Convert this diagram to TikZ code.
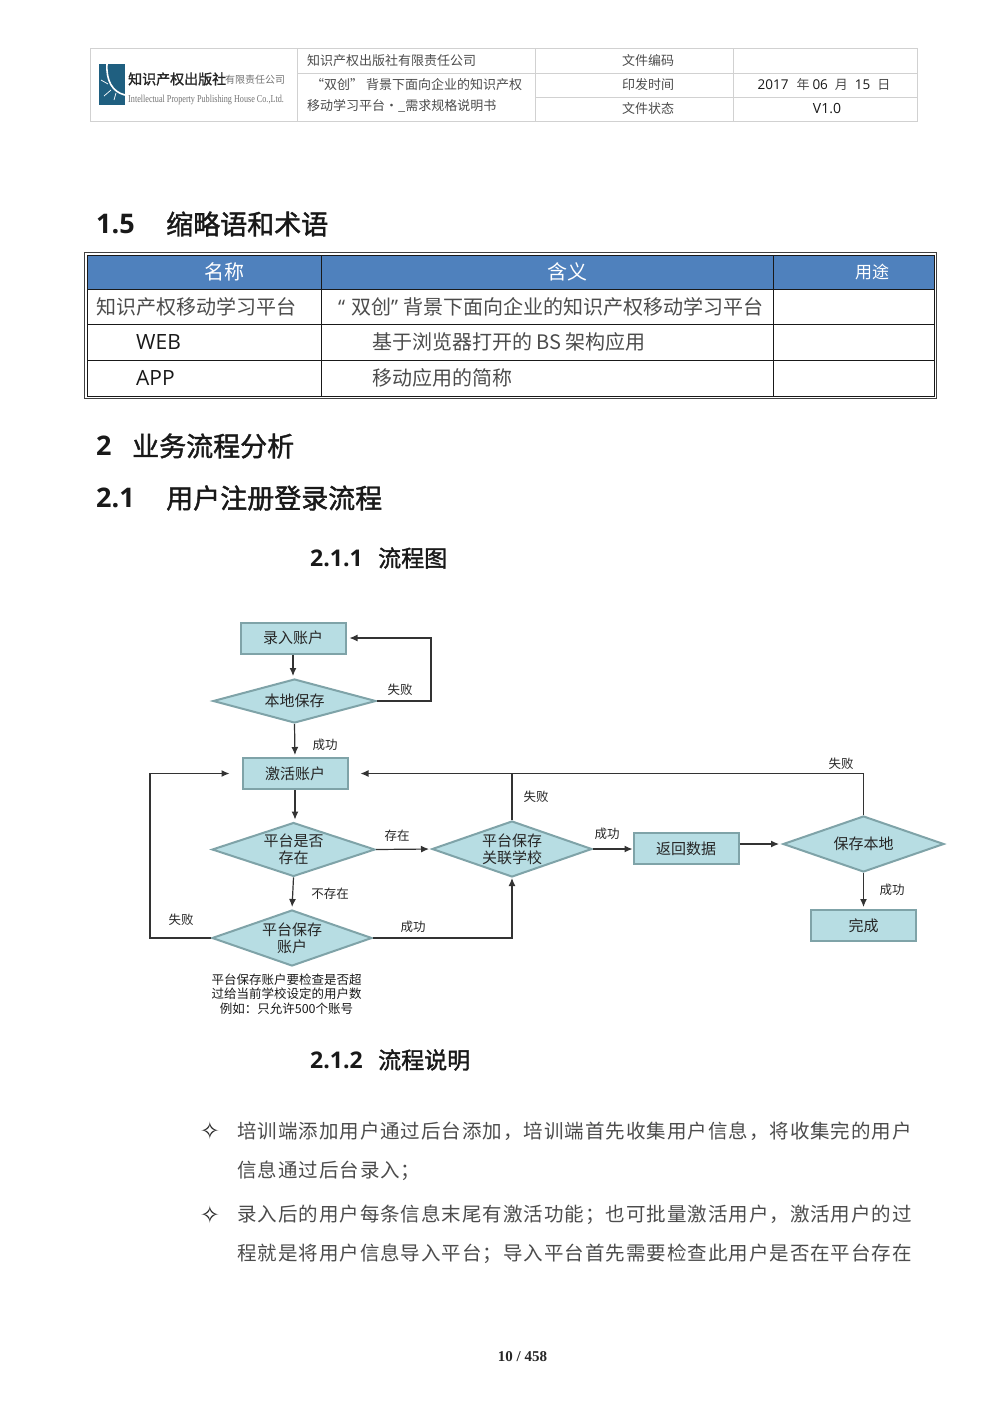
\documentclass[tikz,border=0pt]{standalone}
\usepackage{fontspec}
\setmainfont{Noto Sans CJK SC}
\newfontfamily\latfont{Open Sans}
\newfontfamily\symfont{DejaVu Sans}
\newfontfamily\pagefont{Liberation Serif}
\newfontfamily\bodyfont[LetterSpace=5]{Noto Sans CJK SC}
\newfontfamily\headfont[FakeBold=1.5]{Noto Sans CJK SC}
\usetikzlibrary{arrows.meta,shapes.geometric}
\newcommand{\fsize}[1]{\fontsize{#1}{#1}\selectfont}
\definecolor{headblue}{HTML}{4F81BD}
\definecolor{flowfill}{HTML}{B7DDE3}
\definecolor{flowedge}{HTML}{7FA3A8}
\definecolor{logoblue}{HTML}{1F5F80}

\begin{document}
\begin{tikzpicture}[x=1pt, y=-1pt, >={Latex[length=8pt,width=7pt]},
	every node/.style={inner sep=0pt, text=black!85},
	flowbox/.style={draw=flowedge, line width=2pt, fill=flowfill, minimum width=105pt, minimum height=31pt, font=\fsize{15}, text=black!85},
	decision/.style 2 args={diamond, shape aspect=2.6, draw=flowedge, line width=2pt, fill=flowfill, minimum width=#1, minimum height=#2, align=center, font=\fontsize{15}{17}\selectfont, text=black!85},
	flowlabel/.style={font=\fsize{12.5}, text=black!85},
	flowline/.style={draw=black!80, line width=1.2pt},
	headtext/.style={font=\fsize{13}, text=black!70, anchor=west},
	headmid/.style={font=\fsize{13}, text=black!70},
	h1/.style={font=\headfont\fsize{27}, anchor=west, text=black!90},
	h2/.style={font=\headfont\fsize{23}, anchor=west, text=black!90},
	celltext/.style={font=\fsize{20}, text=black!70, anchor=west},
	bodytext/.style={font=\bodyfont\fsize{19.5}, text=black!70, anchor=west}]
	\useasboundingbox (0,0) rectangle (1000,1414);
	\fill[white] (0,0) rectangle (1000,1414);

	% page header
	\draw[black!18, line width=1pt] (90,48) rectangle (917,121);
	\foreach \x in {297,535,733} {
		\draw[black!18, line width=1pt] (\x,48) -- (\x,121);
	}
	\draw[black!18, line width=1pt] (297,73) -- (917,73);
	\draw[black!18, line width=1pt] (535,97) -- (917,97);
	\fill[logoblue] (99,64) rectangle (125,104.5);
	\draw[white, line width=1.6pt] (107,64) .. controls (106,80) and (112,92) .. (125,95);
	\draw[white, line width=0.7pt] (108,84) -- (101,80) (111,90) -- (104,96) (116,93) -- (114,100);
	\node[font=\headfont\fsize{14}, text=black!85, anchor=west] (logocn) at (128,79) {知识产权出版社};
	\node[font=\fsize{10}, text=black!55, anchor=west] (logoco) at (225,80) {有限责任公司};
	\node[font=\pagefont\fsize{10.6}, text=black!55, anchor=west] (logoen) at (128,99.5) {\scalebox{0.77}[1]{Intellectual Property Publishing House Co.,Ltd.}};
	\node[headtext] (hdco) at (307,61) {知识产权出版社有限责任公司};
	\node[headtext] (hdtitle) at (311,85) {“双创” 背景下面向企业的知识产权};
	\node[headtext] (hdsub) at (307,106) {移动学习平台・\_需求规格说明书};
	\node[headmid] (hdcode) at (648,61) {文件编码};
	\node[headmid] (hdtime) at (648,85) {印发时间};
	\node[headmid] (hdstate) at (648,109) {文件状态};
	\node[headmid] (hddate) at (824,85) {{\latfont\fsize{13.5}\color{black!90}2017}\hspace{8pt}年\hspace{3pt}{\latfont\fsize{13.5}\color{black!90}06}\hspace{7pt}月\hspace{7pt}{\latfont\fsize{13.5}\color{black!90}15}\hspace{7pt}日};
	\node[headmid, font=\latfont\fsize{14}, text=black!90] (hdver) at (827,109) {V1.0};

	% section 1.5
	\node[h1, font=\latfont\fsize{27}\bfseries] (numa) at (96,224) {1.5};
	\node[h1] (heada) at (166,224) {缩略语和术语};
	\fill[headblue] (87,255) rectangle (934,289);
	\draw[black!75, line width=1.5pt] (84.5,252.5) rectangle (936.5,398.5);
	\draw[black!90, line width=1pt] (87,255) rectangle (934,396);
	\foreach \x in {321,773} {
		\draw[black!90, line width=1pt] (\x,255) -- (\x,396);
	}
	\foreach \y in {289,324,360} {
		\draw[black!90, line width=1pt] (87,\y) -- (934,\y);
	}
	\node[font=\fsize{20}, text=white] (colname) at (224,272) {名称};
	\node[font=\fsize{20}, text=white] (colmean) at (567,272) {含义};
	\node[font=\fsize{17}, text=white] (coluse) at (872,272) {用途};
	\node[celltext] (rowa) at (96,307) {知识产权移动学习平台};
	\node[celltext] (rowb) at (338,307) {\makebox[13pt][l]{\latfont “}双创\makebox[12pt][l]{\latfont ”}背景下面向企业的知识产权移动学习平台};
	\node[celltext, font=\latfont\fsize{21}, text=black!90] (rowc) at (136,342) {WEB};
	\node[celltext] (rowd) at (372,342) {基于浏览器打开的 BS 架构应用};
	\node[celltext, font=\latfont\fsize{21}, text=black!90] (rowe) at (136,378) {APP};
	\node[celltext] (rowf) at (372,378) {移动应用的简称};

	% headings
	\node[h1, font=\latfont\fsize{27}\bfseries] (numb) at (96,446) {2};
	\node[h1] (headb) at (132,446) {业务流程分析};
	\node[h1, font=\latfont\fsize{27}\bfseries] (numc) at (96,498) {2.1};
	\node[h1] (headc) at (166,498) {用户注册登录流程};
	\node[h2, font=\latfont\fsize{23}\bfseries] (numd) at (310,558) {2.1.1};
	\node[h2] (headd) at (378,558) {流程图};

	% flow chart
	\node[flowbox] (entry) at (293,638) {录入账户};
	\node[decision={163pt}{44pt}] (local) at (294.5,701) {本地保存};
	\node[flowbox] (activate) at (295,773.5) {激活账户};
	\node[decision={163pt}{51pt}] (exists) at (293.5,849.5) {平台是否\\存在};
	\node[decision={160pt}{56pt}] (account) at (292,938) {平台保存\\账户};
	\node[decision={160pt}{56pt}] (school) at (512,849) {平台保存\\关联学校};
	\node[flowbox] (data) at (686,848.5) {返回数据};
	\node[decision={161pt}{56pt}] (store) at (863.5,844) {保存本地};
	\node[flowbox] (done) at (863.5,925.5) {完成};
	\coordinate (rejoin) at (school.north |- activate);

	\draw[flowline, ->, shorten >=2pt] (entry.south) -- (entry.south |- local.north);
	\draw[flowline, ->, shorten >=3pt] (local.east) -| (431,638) -- (entry.east);
	\draw[flowline, ->, shorten >=2pt] (local.south) -- (activate.north);
	\draw[flowline, ->, shorten >=2pt] (activate.south) -- (activate.south |- exists.north);
	\draw[flowline, ->, shorten >=2pt] (exists.east) -- (school.west);
	\draw[flowline, ->, shorten >=2pt] (exists.south) -- (account.north);
	\draw[flowline, ->, shorten >=12pt] (account.west) -| (150,773.5) -- (activate.west);
	\draw[flowline, ->] (account.east) -| (school.south);
	\draw[flowline] (school.north) -- (rejoin);
	\draw[flowline, ->, shorten >=12pt] (store.north) |- (activate.east);
	\draw[flowline, ->] (school.east) -- (school.east -| data.west);
	\draw[flowline, ->, shorten >=3pt] (data.east |- store.west) -- (store.west);
	\draw[flowline, ->, shorten >=2pt] (store.south) -- (done.north);

	\node[flowlabel] (faila) at (400,690) {失败};
	\node[flowlabel] (oka) at (325,745) {成功};
	\node[flowlabel] (failb) at (536,797) {失败};
	\node[flowlabel] (failc) at (841,764) {失败};
	\node[flowlabel] (has) at (397,836) {存在};
	\node[flowlabel] (okb) at (607,834) {成功};
	\node[flowlabel] (hasnot) at (330,894) {不存在};
	\node[flowlabel] (okc) at (413,927) {成功};
	\node[flowlabel] (faild) at (181,920) {失败};
	\node[flowlabel] (okd) at (892,890) {成功};
	\node[align=center, font=\fontsize{12.5}{14.5}\selectfont, text=black!90] (note) at (286.5,994) {平台保存账户要检查是否超\\过给当前学校设定的用户数\\例如：只允许500个账号};

	% section 2.1.2
	\node[h2, font=\latfont\fsize{23}\bfseries] (nume) at (310,1060) {2.1.2};
	\node[h2] (heade) at (378,1060) {流程说明};
	\node[font=\symfont\fsize{24}] (marka) at (210,1131) {✧};
	\node[font=\symfont\fsize{24}] (markb) at (210,1215) {✧};
	\node[bodytext] (linea) at (237,1131) {培训端添加用户通过后台添加，培训端首先收集用户信息，将收集完的用户};
	\node[bodytext] (lineb) at (237,1171) {信息通过后台录入；};
	\node[bodytext] (linec) at (237,1215) {录入后的用户每条信息末尾有激活功能；也可批量激活用户，激活用户的过};
	\node[bodytext] (lined) at (237,1254) {程就是将用户信息导入平台；导入平台首先需要检查此用户是否在平台存在};
	\node[font=\pagefont\fsize{15}\bfseries] (pageno) at (522.5,1357) {10 / 458};
\end{tikzpicture}
\end{document}
